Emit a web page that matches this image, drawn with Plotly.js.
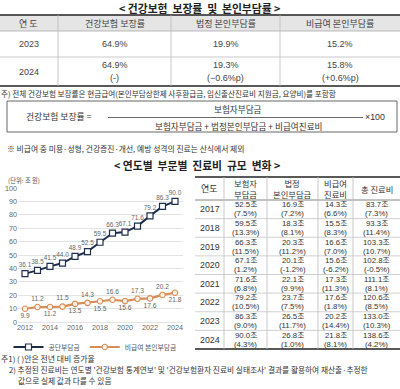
<!DOCTYPE html>
<html>
<head>
<meta charset="utf-8">
<script src="https://cdn.plot.ly/plotly-3.0.1.min.js"></script>
<style>
html,body{margin:0;padding:0;background:#fff;}
#chart{width:400px;height:389px;}
</style>
</head>
<body>
<div id="chart"></div>
<script>
// ================= DATA =================
const years = [2012, 2013, 2014, 2015, 2016, 2017, 2018, 2019, 2020, 2021, 2022, 2023, 2024];
const insurerShare = [36.1, 38.5, 41.5, 44.0, 48.9, 52.5, 59.5, 66.3, 67.1, 71.6, 79.2, 86.3, 90.0];
const nonCoveredShare = [9.9, 11.2, 11.2, 11.5, 13.5, 14.3, 15.5, 16.6, 15.6, 17.3, 17.6, 20.2, 21.8];
const seriesNames = ['공단부담금', '비급여 본인부담금'];
const yTicks = [0, 10, 20, 30, 40, 50, 60, 70, 80, 90, 100];
const xTicks = [2012, 2014, 2016, 2018, 2020, 2022, 2024];

const rateHeaders = ['연 도', '건강보험 보장률', '법정 본인부담률', '비급여 본인부담률'];
const rateYears = ['2023', '2024'];
const coverageRate = ['64.9%', '64.9%'];
const legalRate = ['19.9%', '19.3%'];
const nonCoveredRate = ['15.2%', '15.8%'];
const coverageChange = ['', '(-)'];
const legalChange = ['', '(−0.6%p)'];
const nonCoveredChange = ['', '(+0.6%p)'];

const costHeaders = ['연도', '보험자<br>부담금', '법정<br>본인부담금', '비급여<br>진료비', '총 진료비'];
const costYears = ['2017', '2018', '2019', '2020', '2021', '2022', '2023', '2024'];
const insurerCost = ['52.5', '59.5', '66.3', '67.1', '71.6', '79.2', '86.3', '90.0'];
const insurerGrowth = ['7.5', '13.3', '11.5', '1.2', '6.8', '10.5', '9.0', '4.3'];
const legalCost = ['16.9', '18.3', '20.3', '20.1', '22.1', '23.7', '26.5', '26.8'];
const legalGrowth = ['7.2', '8.1', '11.2', '-1.2', '9.9', '7.5', '11.7', '1.0'];
const nonCoveredCost = ['14.3', '15.5', '16.6', '15.6', '17.3', '17.6', '20.2', '21.8'];
const nonCoveredGrowth = ['6.6', '8.3', '7.0', '-6.2', '11.3', '1.8', '14.4', '8.1'];
const totalCost = ['83.7', '93.3', '103.3', '102.8', '111.1', '120.6', '133.0', '138.6'];
const totalGrowth = ['7.3', '11.4', '10.7', '-0.5', '8.1', '8.5', '10.3', '4.2'];

const title1 = '< 건강보험  보장률  및  본인부담률 >';
const title2 = '< 연도별  부문별  진료비  규모  변화 >';
const noteRate = '주) 전체 건강보험 보장률은 현금급여(본인부담상한제 사후환급금, 임신출산진료비 지원금, 요양비)를 포함함';
const formulaLeft = '건강보험 보장률 =';
const formulaNum = '보험자부담금';
const formulaDen = '보험자부담금 + 법정본인부담금 + 비급여진료비';
const formulaMul = '×100';
const noteExcl = '※ 비급여 중 미용·성형, 건강증진·개선, 예방 성격의 진료는 산식에서 제외';
const unitLabel = '(단위: 조 원)';
const foot1 = '주1) ( )안은 전년 대비 증가율';
const foot2 = "2) 추정된 진료비는 연도별 '건강보험 통계연보' 및 '건강보험환자 진료비 실태조사' 결과를 활용하여 재산출·추정한";
const foot3 = '값으로 실제 값과 다를 수 있음';

// ================= LAYOUT HELPERS =================
const W = 400, H = 389;
const FONT = '"Noto Sans CJK KR", "Noto Sans", sans-serif';
const NUMFONT = '"Liberation Sans", "Noto Sans CJK KR", sans-serif';
const px = x => x / W;
const py = y => 1 - y / H;
const annotations = [];
const shapes = [];
function txt(text, x, y, o) {
  o = o || {};
  annotations.push({
    xref: 'paper', yref: 'paper', x: px(x), y: py(y), text: text,
    showarrow: false, xanchor: o.xa || 'center', yanchor: 'middle',
    borderpad: 0, align: o.xa === 'left' ? 'left' : 'center',
    font: {family: o.family || FONT, size: o.size || 8, color: o.color || '#333'}
  });
}
function hline(x0, x1, y, color, width) {
  shapes.push({type: 'line', xref: 'paper', yref: 'paper', x0: px(x0), x1: px(x1), y0: py(y), y1: py(y), line: {color: color, width: width}});
}
function vline(x, y0, y1, color, width) {
  shapes.push({type: 'line', xref: 'paper', yref: 'paper', x0: px(x), x1: px(x), y0: py(y0), y1: py(y1), line: {color: color, width: width}});
}

// ---- Title 1 ----
txt('<b>' + title1 + '</b>', 199, 8, {size: 10.8, color: '#222'});

// ---- Top table ----
const tEdges = [0, 58, 171, 280, 400];
const tTop = 15, tHead = 31, tRow1 = 57, tBot = 86;
shapes.push({type: 'rect', xref: 'paper', yref: 'paper', x0: px(0), x1: px(400), y0: py(tTop), y1: py(tHead), fillcolor: '#e5e5e5', line: {width: 0}, layer: 'below'});
hline(0, 400, tTop, '#222', 1.6);
hline(0, 400, tHead, '#aaa', 0.8);
hline(0, 400, tRow1, '#bbb', 0.8);
hline(0, 400, tBot, '#222', 1.6);
for (let i = 1; i < tEdges.length - 1; i++) vline(tEdges[i], tTop, tBot, '#bbb', 0.8);
const tCenters = tEdges.slice(0, -1).map((e, i) => (e + tEdges[i + 1]) / 2);
rateHeaders.forEach((h, i) => txt(h, tCenters[i], (tTop + tHead) / 2, {size: 9, color: '#444'}));
const rateCols = [coverageRate, legalRate, nonCoveredRate];
const changeCols = [coverageChange, legalChange, nonCoveredChange];
const rowBounds = [[tHead, tRow1], [tRow1, tBot]];
rateYears.forEach((yr, r) => {
  const [a, b] = rowBounds[r];
  const c = (a + b) / 2;
  txt(yr, tCenters[0], c, {size: 9, color: '#444', family: NUMFONT});
  rateCols.forEach((col, k) => {
    if (changeCols[k][r]) {
      txt(col[r], tCenters[k + 1], c - 7, {size: 9, color: '#444', family: NUMFONT});
      txt(changeCols[k][r], tCenters[k + 1], c + 7, {size: 9, color: '#444', family: NUMFONT});
    } else {
      txt(col[r], tCenters[k + 1], c, {size: 9, color: '#444', family: NUMFONT});
    }
  });
});

// ---- Notes & formula ----
txt(noteRate, 0, 94, {xa: 'left', size: 7.6, color: '#333'});
shapes.push({type: 'rect', xref: 'paper', yref: 'paper', x0: px(7), x1: px(397), y0: py(101), y1: py(132), line: {color: '#555', width: 0.9}});
txt(formulaLeft, 25, 117, {xa: 'left', size: 8.8, color: '#333'});
hline(108, 363, 117.5, '#444', 0.8);
txt(formulaNum, 238, 109, {size: 8.6, color: '#333'});
txt(formulaDen, 238, 126, {size: 8.6, color: '#333'});
txt(formulaMul, 364, 117.5, {xa: 'left', size: 8.8, color: '#333', family: NUMFONT});
txt(noteExcl, 6, 148, {xa: 'left', size: 7.8, color: '#333'});

// ---- Title 2 ----
txt('<b>' + title2 + '</b>', 197, 165, {size: 10.8, color: '#222'});
txt(unitLabel, 7, 180, {xa: 'left', size: 6.3, color: '#555'});

// ---- Right table ----
const rEdges = [195, 224, 267, 318, 353, 400];
const rTop = 177, rHead = 200, rBot = 349;
const rowH = (rBot - rHead) / costYears.length;
hline(rEdges[0], 400, rTop, '#222', 1.6);
hline(rEdges[0], 400, rHead, '#777', 0.9);
for (let r = 1; r < costYears.length; r++) hline(rEdges[0], 400, rHead + r * rowH, '#c4c4c4', 0.8);
hline(rEdges[0], 400, rBot, '#222', 1.6);
for (let i = 1; i < rEdges.length - 1; i++) vline(rEdges[i], rTop, rBot, '#bbb', 0.8);
const rCenters = rEdges.slice(0, -1).map((e, i) => (e + rEdges[i + 1]) / 2);
costHeaders.forEach((h, i) => txt(h, rCenters[i], (rTop + rHead) / 2, {size: i === 0 ? 9 : 8.3, color: '#333'}));
const costCols = [insurerCost, legalCost, nonCoveredCost, totalCost];
const growthCols = [insurerGrowth, legalGrowth, nonCoveredGrowth, totalGrowth];
costYears.forEach((yr, r) => {
  const c = rHead + (r + 0.5) * rowH;
  txt(yr, rCenters[0], c, {size: 8.8, color: '#333', family: NUMFONT});
  costCols.forEach((col, k) => {
    txt(col[r] + '조', rCenters[k + 1], c - 4.45, {size: 7.8, color: '#333', family: NUMFONT});
    txt('(' + growthCols[k][r] + '%)', rCenters[k + 1], c + 4.45, {size: 7.8, color: '#333', family: NUMFONT});
  });
});

// ---- Footnotes ----
txt(foot1, 0, 358, {xa: 'left', size: 7.9, color: '#333'});
txt(foot2, 8, 369.5, {xa: 'left', size: 7.7, color: '#333'});
txt(foot3, 17, 380, {xa: 'left', size: 7.7, color: '#333'});

// ================= TRACES =================
const navy = '#1f2d4d';
const orange = '#d98b55';
const traces = [
  {
    type: 'scatter', mode: 'lines+markers+text', name: seriesNames[0],
    x: years, y: insurerShare,
    line: {color: navy, width: 2},
    marker: {symbol: 'square', size: 6, color: '#ffffff', line: {color: navy, width: 1.2}},
    texttemplate: '%{y:.1f}',
    textposition: 'top center',
    textfont: {family: NUMFONT, size: 6.4, color: '#666'},
    cliponaxis: false, hoverinfo: 'skip'
  },
  {
    type: 'scatter', mode: 'lines+markers+text', name: seriesNames[1],
    x: years, y: nonCoveredShare,
    line: {color: orange, width: 2.2},
    marker: {symbol: 'circle', size: 5.5, color: '#fdf1e6', line: {color: orange, width: 1.1}},
    texttemplate: '%{y:.1f}',
    textposition: years.map((_, i) => i % 2 === 0 ? 'bottom center' : 'top center'),
    textfont: {family: NUMFONT, size: 6.6, color: '#666'},
    cliponaxis: false, hoverinfo: 'skip'
  }
];

const layout = {
  width: W, height: H,
  margin: {l: 0, r: 0, t: 0, b: 0},
  paper_bgcolor: '#fff', plot_bgcolor: '#fff',
  font: {family: FONT, color: '#333'},
  showlegend: true,
  legend: {
    orientation: 'h', x: px(95), xanchor: 'center', y: py(347), yanchor: 'middle',
    font: {family: FONT, size: 6.8, color: '#555'}, itemwidth: 30, bgcolor: 'rgba(0,0,0,0)',
    tracegroupgap: 0
  },
  xaxis: {
    domain: [px(18), px(183)], range: [2011.44, 2024.64],
    tickvals: xTicks, ticktext: xTicks.map(String),
    showgrid: false, zeroline: false, showline: false, ticks: '',
    tickfont: {family: NUMFONT, size: 7.2, color: '#666'}, fixedrange: true
  },
  yaxis: {
    domain: [py(322), py(188)], range: [0, 100],
    tickvals: yTicks, showgrid: true, gridcolor: '#dcdcdc', gridwidth: 0.8,
    zeroline: true, zerolinecolor: '#dcdcdc', zerolinewidth: 0.8,
    showline: false, ticks: '',
    tickfont: {family: NUMFONT, size: 7.2, color: '#666'}, fixedrange: true
  },
  annotations: annotations,
  shapes: shapes
};

Plotly.newPlot('chart', traces, layout, {displayModeBar: false, staticPlot: true});
</script>
</body>
</html>
